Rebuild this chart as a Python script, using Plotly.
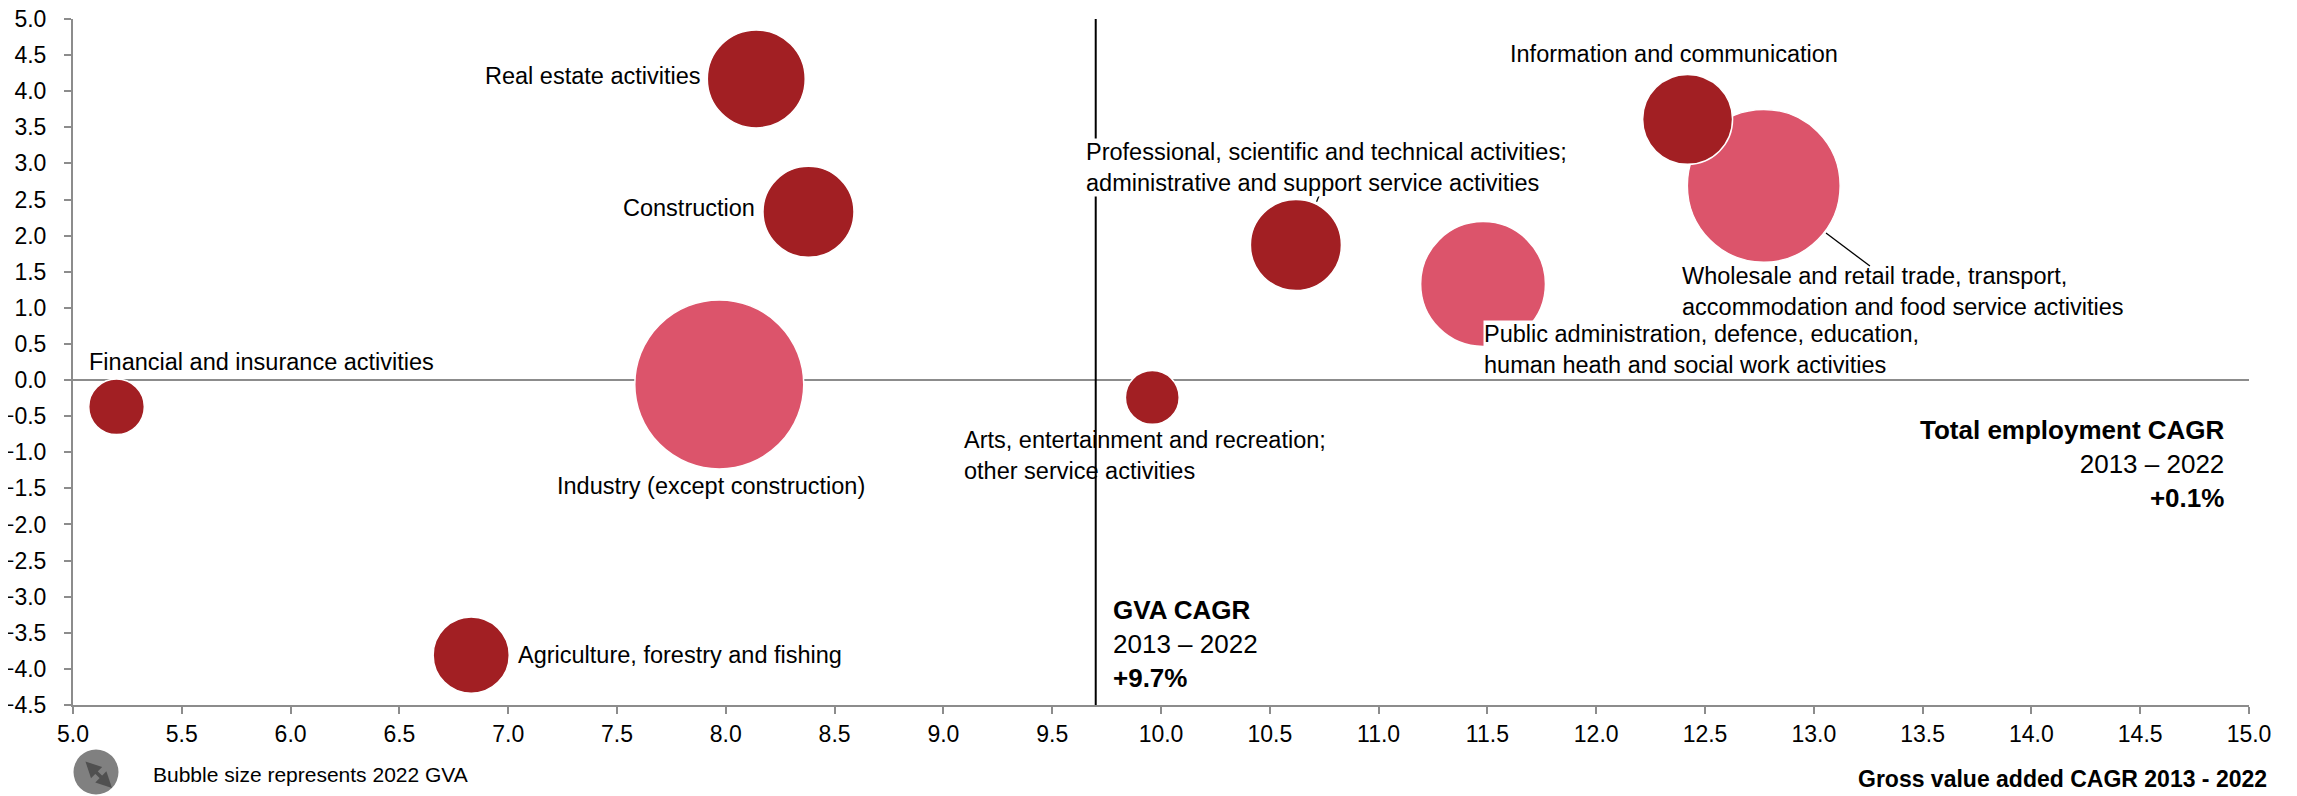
import plotly.graph_objects as go

# ---- data ----
sectors = [
    "Real estate activities",
    "Construction",
    "Financial and insurance activities",
    "Industry (except construction)",
    "Agriculture, forestry and fishing",
    "Arts, entertainment and recreation; other service activities",
    "Professional, scientific and technical activities; administrative and support service activities",
    "Public administration, defence, education, human heath and social work activities",
    "Wholesale and retail trade, transport, accommodation and food service activities",
    "Information and communication",
]
gva_cagr = [8.14, 8.38, 5.20, 7.97, 6.83, 9.96, 10.62, 11.48, 12.77, 12.42]
emp_cagr = [4.17, 2.33, -0.37, -0.06, -3.81, -0.24, 1.87, 1.33, 2.69, 3.61]
gva_2022 = [9.6, 8.3, 3.1, 28.6, 5.8, 2.9, 8.3, 15.6, 23.4, 8.1]
group = ["dark", "dark", "dark", "large", "dark", "dark", "dark", "large", "large", "dark"]

label_text = [
    "Real estate activities",
    "Construction",
    "Financial and insurance activities",
    "Industry (except construction)",
    "Agriculture, forestry and fishing",
    "Arts, entertainment and recreation;<br>other service activities",
    "Professional, scientific and technical activities;<br>administrative and support service activities",
    "Public administration, defence, education,<br>human heath and social work activities",
    "Wholesale and retail trade, transport,<br>accommodation and food service activities",
    "Information and communication",
]
label_x = [7.89, 8.14, 5.07, 7.93, 7.04, 9.09, 9.65, 11.48, 12.39, 11.60]
label_y = [4.21, 2.38, 0.25, -1.47, -3.81, -1.04, 2.94, 0.42, 1.23, 4.52]
label_anchor = ["right", "right", "left", "center", "left", "left", "left", "left", "left", "left"]
label_bg = [False, False, False, False, False, False, True, True, False, False]

gva_total_cagr = 9.7
emp_total_cagr = 0.1

x_ticks = [5.0 + 0.5 * i for i in range(21)]
y_ticks = [-4.5 + 0.5 * i for i in range(20)]

DARK = "#A21F23"
PINK = "#DC546B"
FONT = "Liberation Sans, Arial, sans-serif"

colors = [PINK if g == "large" else DARK for g in group]
max_d = 169
sizeref = 2.0 * max(gva_2022) / (max_d ** 2)

fig = go.Figure()
fig.add_trace(go.Scatter(
    x=gva_cagr, y=emp_cagr, mode="markers",
    text=sectors, hoverinfo="text",
    marker=dict(size=gva_2022, sizemode="area", sizeref=sizeref,
                color=colors, opacity=1,
                line=dict(color="white", width=1.5)),
    showlegend=False,
))

annotations = []
for t, lx, ly, anc, bg in zip(label_text, label_x, label_y, label_anchor, label_bg):
    annotations.append(dict(
        x=lx, y=ly, xref="x", yref="y", text=t, showarrow=False,
        xanchor=anc, yanchor="middle", align="left",
        font=dict(family=FONT, size=23.5, color="#000000"),
        bgcolor="white" if bg else "rgba(0,0,0,0)", borderpad=0,
    ))

annotations.append(dict(
    x=14.90, y=-1.16, xref="x", yref="y",
    text="<b>Total employment CAGR</b><br>2013 – 2022<br><b>+%.1f%%</b>" % emp_total_cagr,
    showarrow=False, xanchor="right", yanchor="middle", align="right",
    font=dict(family=FONT, size=26, color="#000000"),
))
annotations.append(dict(
    x=9.77, y=-3.66, xref="x", yref="y",
    text="<b>GVA CAGR</b><br>2013 – 2022<br><b>+%.1f%%</b>" % gva_total_cagr,
    showarrow=False, xanchor="left", yanchor="middle", align="left",
    font=dict(family=FONT, size=26, color="#000000"),
))
annotations.append(dict(
    x=1.009, y=-0.108, xref="paper", yref="paper",
    text="<b>Gross value added CAGR 2013 - 2022</b>",
    showarrow=False, xanchor="right", yanchor="middle",
    font=dict(family=FONT, size=23, color="#000000"),
))
annotations.append(dict(
    x=0.0358, y=-0.102, xref="paper", yref="paper",
    text="Bubble size represents 2022 GVA",
    showarrow=False, xanchor="left", yanchor="middle",
    font=dict(family=FONT, size=21, color="#000000"),
))
# double arrow inside legend bubble
annotations.append(dict(
    x=0.0179, y=-0.121, xref="paper", yref="paper", text="",
    showarrow=True, ax=-28, ay=-28, arrowside="end+start",
    arrowhead=2, arrowsize=0.9, arrowwidth=3.5, arrowcolor="#505050",
))

shapes = [
    # GVA CAGR vertical line
    dict(type="line", xref="x", yref="y", x0=gva_total_cagr, x1=gva_total_cagr,
         y0=-4.5, y1=5.0, line=dict(color="#000000", width=2)),
    # leader lines
    dict(type="line", xref="x", yref="y", x0=13.056, y0=2.036, x1=13.258, y1=1.579,
         line=dict(color="#000000", width=1.3)),
    dict(type="line", xref="x", yref="y", x0=10.73, y0=2.58, x1=10.715, y1=2.47,
         line=dict(color="#000000", width=1.3)),
    # legend bubble
    dict(type="circle", xref="paper", yref="paper", xsizemode="pixel", ysizemode="pixel",
         xanchor=0.01057, yanchor=-0.0977, x0=-22.5, x1=22.5, y0=-22.5, y1=22.5,
         fillcolor="#808080", line=dict(width=0)),
]

axis_common = dict(
    showgrid=False, showline=True, linecolor="#8C8C8C", linewidth=2,
    ticks="outside", ticklen=7, tickwidth=1.5, tickcolor="#8C8C8C",
    tickformat=".1f", tickfont=dict(family=FONT, size=23, color="#000000"),
    mirror=False, automargin=False, ticklabeloverflow="allow",
)

fig.update_layout(
    width=2289, height=788,
    margin=dict(l=65, r=48, t=11, b=91),
    paper_bgcolor="white", plot_bgcolor="white",
    xaxis=dict(range=[5.0, 15.0], tickmode="array", tickvals=x_ticks,
               zeroline=False, **axis_common),
    yaxis=dict(range=[-4.5, 5.0], tickmode="array", tickvals=y_ticks,
               zeroline=True, zerolinecolor="#8C8C8C", zerolinewidth=1.5,
               ticklabelstandoff=13, **axis_common),
    annotations=annotations, shapes=shapes,
    showlegend=False,
)

fig.write_html("out.html")
